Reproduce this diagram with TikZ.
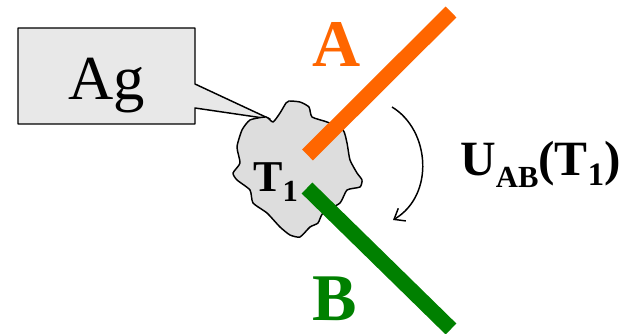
\documentclass[tikz,border=0pt]{standalone}
\usepackage{fontspec}
\setmainfont{Liberation Serif}
\usetikzlibrary{arrows.meta}
\definecolor{calloutgray}{HTML}{E8E8E8}
\definecolor{grain}{HTML}{DDDDDD}
\definecolor{orangeA}{HTML}{FF6600}
\definecolor{greenB}{HTML}{008000}
\tikzset{
  lbl/.style={anchor=base west, inner sep=0pt, font=\bfseries},
  rod/.style={line width=11.5pt, line cap=butt},
  outline/.style={draw=black, line width=1.1pt, line join=round}
}
\begin{document}
\begin{tikzpicture}[x=0.75pt, y=-0.75pt]
\useasboundingbox (0,0) rectangle (620,334);

% callout box with pointer
\draw[outline, fill=calloutgray]
  (18,28) -- (195,28) -- (195,84) -- (270,119) -- (195,108) -- (195,124) -- (18,124) -- cycle;
\node[anchor=base, inner sep=0pt, font=\fontsize{47}{50}\selectfont] (ag) at (106.5,100) {Ag};

% grain outline
\draw[outline, fill=grain] plot[smooth cycle, tension=0.35] coordinates {
  (289,101) (300,102) (309,107) (312,117) (327,122) (343,130) (347,143)
  (350,160) (357,173) (362,180) (360,187) (347,190) (340,203) (323,213)
  (318,223) (310,227) (300,237) (290,235) (280,227) (267,213) (253,203)
  (250,190) (237,180) (233,173) (240,163) (237,147) (242,130) (250,120)
  (266,117) (273,122) (280,113) (286,103)};

% rods
\coordinate (aIn) at (307.5,155);
\coordinate (aOut) at (451,12);
\coordinate (bIn) at (307,188);
\coordinate (bOut) at (451,329);
\draw[rod, orangeA] (aIn) -- (aOut);
\draw[rod, greenB] (bIn) -- (bOut);

% labels
\node[lbl, text=orangeA, font=\bfseries\fontsize{50}{50}\selectfont] (A) at (312,67) {A};
\node[lbl, text=greenB, font=\bfseries\fontsize{50}{50}\selectfont] (B) at (312,320) {B};
\node[lbl, font=\bfseries\fontsize{33}{33}\selectfont] (T) at (253,192)
  {T\raisebox{-7.5pt}{\fontsize{23}{23}\selectfont 1}};
\node[lbl, font=\bfseries\fontsize{37}{37}\selectfont] (U) at (460,175.5)
  {U\raisebox{-9pt}{\fontsize{23}{23}\selectfont AB}(T\raisebox{-7.5pt}{\fontsize{24.5}{24.5}\selectfont 1})};

% rotation arrow
\coordinate (rotS) at (392,107);
\coordinate (rotE) at (393,220);
\draw[line width=1.1pt, -{Straight Barb[length=7pt, width=11pt]}]
  (rotS) .. controls (430,130) and (435,195) .. (rotE);
\end{tikzpicture}
\end{document}
